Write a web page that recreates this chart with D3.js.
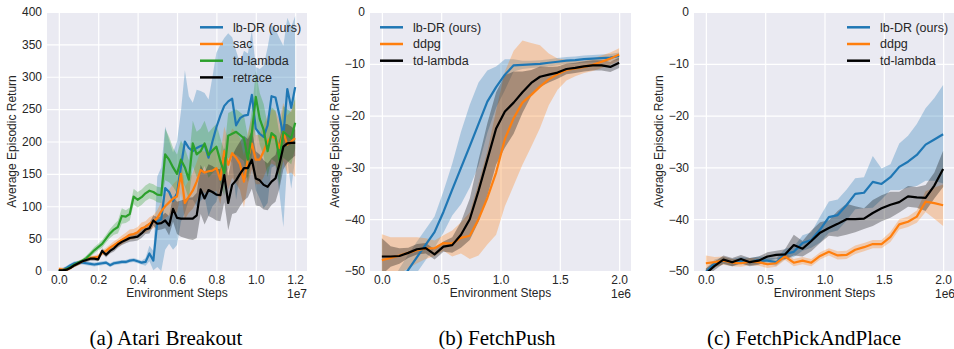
<!DOCTYPE html>
<html>
<head>
<meta charset="utf-8">
<script src="https://cdn.jsdelivr.net/npm/d3@7"></script>
<style>
  body { margin: 0; background: #fff; }
  svg { display: block; }
  text { font-family: "Liberation Sans", Arial, sans-serif; }
</style>
</head>
<body>
<svg id="chart" width="954" height="349"></svg>
<script>
// ---- data ----
// (a) Atari Breakout, steps in units of 1e7
const stepsAtari = [0, 0.02, 0.04, 0.06, 0.08, 0.1, 0.12, 0.14, 0.16, 0.18,
  0.2, 0.22, 0.24, 0.26, 0.28, 0.3, 0.32, 0.34, 0.36, 0.38,
  0.4, 0.42, 0.44, 0.46, 0.48, 0.5, 0.52, 0.54, 0.56, 0.58,
  0.6, 0.62, 0.64, 0.66, 0.68, 0.7, 0.72, 0.74, 0.76, 0.78,
  0.8, 0.82, 0.84, 0.86, 0.88, 0.9, 0.92, 0.94, 0.96, 0.98,
  1.0, 1.02, 1.04, 1.06, 1.08, 1.1, 1.12, 1.14, 1.16, 1.18, 1.2];
const atariLbdr = [0, 2, 5, 9, 12, 13, 13, 12, 11, 10,
  11, 12, 13, 9, 12, 13, 14, 14, 16, 17,
  15, 13, 14, 27, 16, 76, 80, 128, 122, 108,
  120, 161, 200, 190, 185, 190, 193, 195, 175, 200,
  222, 240, 255, 262, 266, 225, 236, 240, 241, 272,
  220, 212, 207, 225, 270, 268, 240, 208, 281, 252, 284];
const atariLbdrErr = [3, 3, 3, 3, 3, 3, 3, 3, 3, 3,
  3, 3, 3, 3, 3, 3, 3, 3, 3, 3,
  3, 3, 6, 12, 15, 70, 80, 95, 80, 75,
  80, 85, 110, 80, 75, 90, 85, 80, 90, 100,
  115, 110, 105, 105, 95, 115, 85, 100, 95, 100,
  95, 100, 110, 120, 110, 105, 120, 140, 110, 125, 110];
const atariSac = [3, 2, 2, 5, 9, 12, 15, 18, 20, 21,
  22, 28, 31, 36, 40, 44, 48, 52, 56, 57,
  60, 66, 68, 73, 76, 82, 92, 100, 106, 112,
  115, 150, 105, 115, 124, 138, 156, 152, 154, 155,
  159, 141, 185, 164, 182, 175, 165, 138, 174, 197,
  172, 172, 185, 200, 208, 205, 190, 215, 195, 200, 205];
const atariSacErr = [3, 3, 3, 3, 3, 3, 3, 3, 3, 3,
  4, 4, 5, 5, 6, 6, 7, 7, 8, 8,
  8, 9, 9, 10, 10, 12, 15, 18, 20, 22,
  25, 30, 25, 25, 28, 30, 30, 32, 32, 35,
  35, 38, 38, 38, 38, 40, 40, 40, 40, 40,
  38, 38, 40, 40, 42, 42, 42, 45, 45, 48, 60];
const atariTd = [0, 1, 3, 6, 10, 13, 16, 20, 26, 32,
  37, 42, 50, 58, 64, 68, 85, 84, 88, 115,
  110, 114, 120, 124, 122, 118, 117, 180, 172, 160,
  150, 172, 160, 141, 197, 180, 185, 197, 179, 186,
  192, 170, 151, 209, 212, 215, 210, 205, 172, 213,
  269, 235, 218, 185, 213, 208, 172, 215, 210, 205, 229];
const atariTdErr = [2, 2, 2, 3, 3, 3, 3, 4, 4, 5,
  5, 6, 6, 7, 8, 10, 12, 10, 10, 12,
  12, 12, 12, 12, 12, 12, 12, 40, 35, 30,
  30, 30, 30, 30, 35, 35, 35, 35, 35, 35,
  35, 35, 35, 35, 35, 35, 35, 35, 35, 35,
  40, 40, 40, 40, 40, 40, 40, 40, 40, 40, 40];
const atariRetrace = [1, 1, 2, 5, 9, 12, 15, 17, 19, 19,
  18, 31, 25, 31, 35, 41, 45, 48, 51, 52,
  53, 58, 64, 66, 78, 73, 74, 78, 70, 96,
  82, 81, 81, 81, 81, 86, 126, 112, 125, 122,
  118, 117, 148, 105, 133, 140, 150, 159, 159, 172,
  143, 140, 133, 130, 138, 143, 165, 192, 197, 198, 198];
const atariRetraceErr = [2, 2, 2, 2, 3, 3, 3, 3, 3, 3,
  3, 4, 4, 4, 5, 5, 5, 5, 6, 6,
  6, 7, 7, 8, 8, 10, 10, 12, 15, 20,
  25, 28, 30, 32, 33, 35, 38, 40, 40, 40,
  40, 40, 42, 42, 45, 50, 50, 50, 45, 45,
  42, 40, 38, 36, 36, 36, 38, 35, 30, 25, 20];

// (b) FetchPush and (c) FetchPickAndPlace, steps in units of 1e6
const stepsFetch = [0, 0.074, 0.148, 0.222, 0.296, 0.370, 0.444, 0.519, 0.593, 0.667,
  0.741, 0.815, 0.889, 0.963, 1.037, 1.111, 1.185, 1.259, 1.333, 1.407,
  1.481, 1.556, 1.630, 1.704, 1.778, 1.852, 1.926, 2.0];
const pushLbdr = [-57, -55.5, -52.5, -49.8, -47.3, -44.9, -42.5, -38.6, -34.3, -30.1,
  -25.9, -21.6, -17.3, -14.5, -12.1, -10.3, -10.2, -10.1, -10.0, -9.8,
  -9.6, -9.4, -9.3, -9.1, -9.0, -8.9, -8.8, -8.5];
const pushLbdrErr = [3, 3, 3, 3, 3, 3, 3, 4, 5, 7,
  8, 8, 6, 4, 3, 1.2, 0.8, 0.7, 0.7, 0.7,
  0.7, 0.7, 0.7, 0.7, 0.7, 0.7, 0.7, 0.7];
const pushDdpg = [-47.9, -47.5, -47.0, -46.5, -46.0, -45.7, -45.6, -44.6, -44.7, -43.6,
  -43.2, -40.0, -35.9, -31.0, -24.5, -20.5, -17.5, -16.0, -14.4, -13.0,
  -12.0, -11.2, -10.9, -10.6, -10.2, -9.6, -9.0, -8.2];
const pushDdpgErr = [5, 4, 3.5, 3, 2.5, 2, 1.5, 1.5, 2.5, 3,
  4.5, 7, 9, 12, 13, 13, 12, 10, 8, 5,
  3, 2, 1.5, 1.2, 1.2, 1.2, 1.2, 1.2];
const pushTd = [-47.2, -47.2, -47.1, -46.5, -45.8, -45.6, -46.8, -45.3, -45.0, -43.0,
  -40.0, -34.5, -28.5, -22.5, -19.2, -17.5, -15.5, -13.7, -12.5, -12.1,
  -11.7, -11.0, -10.8, -10.5, -10.3, -10.3, -10.6, -9.8];
const pushTdErr = [3.5, 2, 1.5, 1, 1, 1, 1, 1, 1.5, 2.5,
  4, 6, 7, 7, 7, 6, 4, 2.5, 2, 1.5,
  1.2, 1, 1, 1, 1, 1, 1, 1];
const pickLbdr = [-50.2, -48.5, -48.0, -48.4, -48.0, -48.2, -47.9, -48.0, -48.3, -46.7,
  -46.3, -44.6, -44.0, -42.0, -39.6, -39.2, -37.3, -35.1, -34.9, -32.8,
  -33.2, -31.9, -29.9, -28.9, -27.6, -25.6, -24.6, -23.6];
const pickLbdrErr = [0.7, 0.7, 0.7, 0.7, 0.7, 0.7, 0.7, 0.7, 0.7, 1,
  1, 1.5, 1.5, 2.5, 3, 3, 3, 3, 3, 5,
  3, 2.5, 4.5, 5, 6, 7, 8, 9.5];
const pickDdpg = [-48.5, -48.3, -48.0, -48.4, -48.5, -48.2, -48.3, -48.7, -48.5, -47.2,
  -48.4, -48.0, -48.4, -47.1, -46.3, -47.0, -46.9, -45.9, -45.4, -44.8,
  -44.8, -43.4, -41.0, -40.5, -39.5, -36.6, -36.9, -37.3];
const pickDdpgErr = [1.5, 1, 0.8, 0.7, 0.7, 0.7, 0.7, 0.7, 0.7, 0.7,
  0.7, 0.7, 0.7, 0.7, 0.7, 0.8, 0.8, 0.8, 0.8, 0.8,
  0.8, 1, 1, 1, 1.2, 2, 3, 4];
const pickTd = [-50.5, -49.0, -47.8, -48.3, -47.7, -48.3, -48.0, -47.2, -46.9, -46.8,
  -45.0, -45.7, -44.2, -42.6, -41.7, -40.9, -40.0, -40.0, -39.9, -38.8,
  -37.9, -37.2, -36.7, -35.6, -35.8, -35.9, -33.5, -30.3];
const pickTdErr = [1, 0.8, 0.8, 0.8, 0.8, 0.8, 0.8, 0.8, 0.8, 1,
  2, 1.5, 2, 2, 1.5, 2.5, 3, 2.5, 2, 2.5,
  2.5, 2.5, 2, 2, 2, 2.5, 2.5, 3.5];

const atariTicksX = [0, 0.2, 0.4, 0.6, 0.8, 1.0, 1.2];
const atariTicksY = [0, 50, 100, 150, 200, 250, 300, 350, 400];
const fetchTicksX = [0, 0.5, 1.0, 1.5, 2.0];
const fetchTicksY = [-50, -40, -30, -20, -10, 0];
const captions = ['(a) Atari Breakout', '(b) FetchPush', '(c) FetchPickAndPlace'];

const BLUE = '#1f77b4', ORANGE = '#ff7f0e', GREEN = '#2ca02c', BLACK = '#000000';

// ---- drawing ----
const svg = d3.select('#chart');
const plotTop = 12, plotBottom = 271;

function drawPanel(p, idx) {
  const g = svg.append('g');
  const x = d3.scaleLinear().domain(p.xDomain).range([p.left, p.right]);
  const y = d3.scaleLinear().domain(p.yDomain).range([plotBottom, plotTop]);

  g.append('rect')
    .attr('x', p.left).attr('y', plotTop)
    .attr('width', p.right - p.left).attr('height', plotBottom - plotTop)
    .attr('fill', '#eaeaf2');

  const xAxis = g.append('g')
    .attr('transform', `translate(0,${plotBottom})`)
    .call(d3.axisBottom(x).tickValues(p.xTicks).tickFormat(d3.format('.1f'))
      .tickSize(-(plotBottom - plotTop)).tickPadding(4));
  const yAxis = g.append('g')
    .attr('transform', `translate(${p.left},0)`)
    .call(d3.axisLeft(y).tickValues(p.yTicks).tickFormat(d3.format('d'))
      .tickSize(-(p.right - p.left)).tickPadding(5));
  [xAxis, yAxis].forEach(a => {
    a.select('.domain').remove();
    a.selectAll('line').attr('stroke', '#ffffff').attr('stroke-width', 1.2);
    a.selectAll('text').attr('fill', '#262626').style('font-size', '12px')
      .style('font-family', '"Liberation Sans", Arial, sans-serif');
  });

  const clipId = 'clip' + idx;
  g.append('clipPath').attr('id', clipId).append('rect')
    .attr('x', p.left).attr('y', plotTop)
    .attr('width', p.right - p.left).attr('height', plotBottom - plotTop);
  const plot = g.append('g').attr('clip-path', `url(#${clipId})`);

  p.series.forEach(s => {
    const pts = p.steps.map((st, i) => ({ x: st, m: s.values[i], e: s.err[i] }));
    plot.append('path')
      .datum(pts)
      .attr('fill', s.color)
      .attr('fill-opacity', 0.3)
      .attr('d', d3.area().x(d => x(d.x)).y0(d => y(d.m - d.e)).y1(d => y(d.m + d.e)));
  });
  p.series.forEach(s => {
    const pts = p.steps.map((st, i) => ({ x: st, m: s.values[i] }));
    plot.append('path')
      .datum(pts)
      .attr('fill', 'none')
      .attr('stroke', s.color)
      .attr('stroke-width', 2.2)
      .attr('stroke-linejoin', 'round')
      .attr('d', d3.line().x(d => x(d.x)).y(d => y(d.m)));
  });

  // axis titles
  g.append('text')
    .attr('x', (p.left + p.right) / 2).attr('y', 297)
    .attr('text-anchor', 'middle').attr('fill', '#262626')
    .style('font-size', '12px').text('Environment Steps');
  g.append('text')
    .attr('x', p.right).attr('y', 298)
    .attr('text-anchor', 'end').attr('fill', '#262626')
    .style('font-size', '12px').text(p.exponent);
  g.append('text')
    .attr('transform', `translate(${p.left - 31.5},${(plotTop + plotBottom) / 2}) rotate(-90)`)
    .attr('text-anchor', 'middle').attr('fill', '#262626')
    .style('font-size', '12px').text('Average Episodic Return');

  // legend
  const leg = g.append('g');
  p.series.forEach((s, i) => {
    const ly = 27.3 + i * 16.7;
    leg.append('line')
      .attr('x1', p.legendX).attr('x2', p.legendX + 23)
      .attr('y1', ly).attr('y2', ly)
      .attr('stroke', s.color).attr('stroke-width', 2.5);
    leg.append('text')
      .attr('x', p.legendX + 33).attr('y', ly).attr('dy', '0.35em')
      .attr('fill', '#262626').style('font-size', '12.5px').text(s.name);
  });

  svg.append('text')
    .attr('x', p.captionX).attr('y', 345)
    .attr('text-anchor', 'middle').attr('fill', '#000')
    .style('font-family', '"Liberation Serif", "Times New Roman", serif')
    .style('font-size', '21px')
    .text(captions[idx]);
}

const panels = [
  {
    left: 47, right: 307, xDomain: [-0.06, 1.26], yDomain: [0, 400],
    xTicks: atariTicksX, yTicks: atariTicksY, steps: stepsAtari, exponent: '1e7',
    legendX: 200, captionX: 166,
    series: [
      { name: 'lb-DR (ours)', color: BLUE, values: atariLbdr, err: atariLbdrErr },
      { name: 'sac', color: ORANGE, values: atariSac, err: atariSacErr },
      { name: 'td-lambda', color: GREEN, values: atariTd, err: atariTdErr },
      { name: 'retrace', color: BLACK, values: atariRetrace, err: atariRetraceErr }
    ]
  },
  {
    left: 370, right: 631, xDomain: [-0.1, 2.1], yDomain: [-50, 0],
    xTicks: fetchTicksX, yTicks: fetchTicksY, steps: stepsFetch, exponent: '1e6',
    legendX: 380, captionX: 497,
    series: [
      { name: 'lb-DR (ours)', color: BLUE, values: pushLbdr, err: pushLbdrErr },
      { name: 'ddpg', color: ORANGE, values: pushDdpg, err: pushDdpgErr },
      { name: 'td-lambda', color: BLACK, values: pushTd, err: pushTdErr }
    ]
  },
  {
    left: 694, right: 955, xDomain: [-0.1, 2.1], yDomain: [-50, 0],
    xTicks: fetchTicksX, yTicks: fetchTicksY, steps: stepsFetch, exponent: '1e6',
    legendX: 847, captionX: 804,
    series: [
      { name: 'lb-DR (ours)', color: BLUE, values: pickLbdr, err: pickLbdrErr },
      { name: 'ddpg', color: ORANGE, values: pickDdpg, err: pickDdpgErr },
      { name: 'td-lambda', color: BLACK, values: pickTd, err: pickTdErr }
    ]
  }
];

panels.forEach(drawPanel);
</script>
</body>
</html>
